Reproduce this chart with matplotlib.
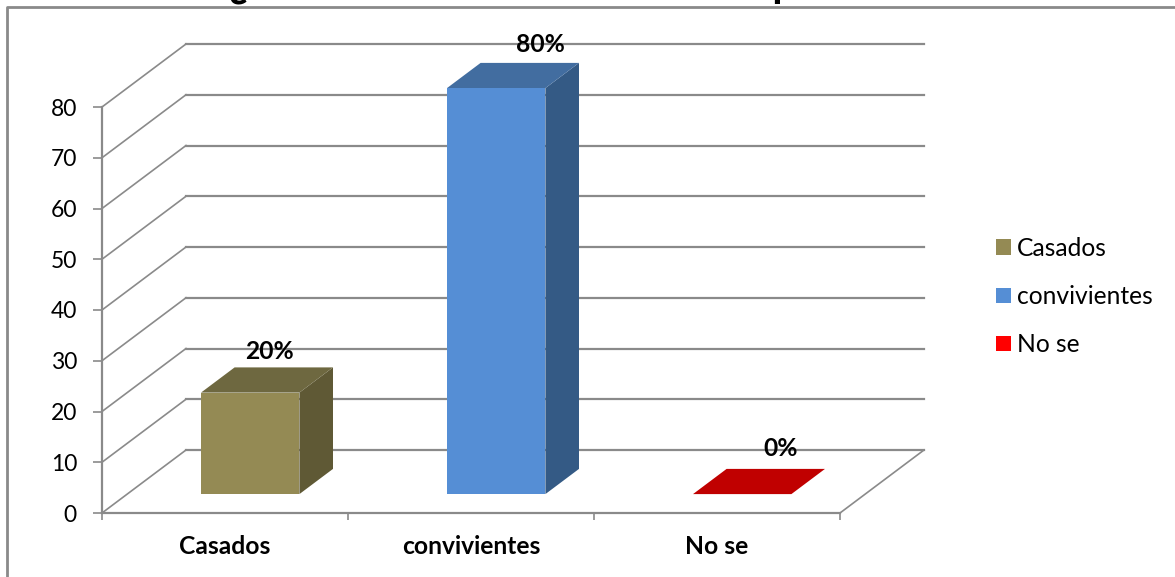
import matplotlib
matplotlib.use("Agg")
import matplotlib.pyplot as plt
from matplotlib.lines import Line2D
from matplotlib.patches import Patch, Polygon

W, H = 1175, 577
categories = ["Casados", "convivientes", "No se"]
values = [20, 80, 0]
value_labels = ["20%", "80%", "0%"]
y_ticks = [0, 10, 20, 30, 40, 50, 60, 70, 80]
front_colors = ["#948A54", "#558ED5", "#FF0000"]
side_colors = ["#5F5935", "#345A85", "#A00000"]
top_colors = ["#6E6840", "#426DA0", "#C00000"]
label_offsets = [(19, 41), (44, 44), (38, 46)]
GRID = "#8A8A8A"

plt.rcParams["font.family"] = ["Lato", "DejaVu Sans"]

fig = plt.figure(figsize=(W / 100, H / 100), dpi=100, facecolor="white")
ax = fig.add_axes([102 / W, (H - 513) / H, 738 / W, 406 / H])
ax.set_xlim(0, 3)
ax.set_ylim(0, 80)
ax.patch.set_visible(False)

# oblique projection: full depth of the chart, in data units
DX = 84 / 246
DY = 63 / (406 / 80)


def proj(x, y, d):
    return x + d * DX, y + d * DY


# walls
for v in y_ticks:
    x0, y0 = proj(0, v, 1)
    x1, y1 = proj(3, v, 1)
    ax.plot([x0, x1], [y0, y1], color=GRID, lw=1.6, clip_on=False, zorder=1)
    ax.plot([0, x0], [v, y0], color=GRID, lw=1.2, clip_on=False, zorder=1)
x1, y1 = proj(3, 0, 1)
ax.plot([3, x1], [0, y1], color=GRID, lw=1.2, clip_on=False, zorder=1)

# 3D bars
BAR_W = 0.4
BAR_D = 0.4
START = 0.30
for i, v in enumerate(values):
    cx, base = proj(i + 0.5, 0, START)
    xl, xr = cx - BAR_W / 2, cx + BAR_W / 2
    top = base + v
    dx, dy = BAR_D * DX, BAR_D * DY
    if v > 0:
        ax.bar(cx, v, BAR_W, bottom=base, color=front_colors[i], zorder=4, clip_on=False)
        ax.add_patch(Polygon([(xr, base), (xr + dx, base + dy), (xr + dx, top + dy), (xr, top)],
                             closed=True, fc=side_colors[i], ec="none", zorder=3, clip_on=False))
    ax.add_patch(Polygon([(xl, top), (xr, top), (xr + dx, top + dy), (xl + dx, top + dy)],
                         closed=True, fc=top_colors[i], ec="none", zorder=3, clip_on=False))
    ax.annotate(value_labels[i], (cx, top), xytext=label_offsets[i],
                textcoords="offset pixels", ha="center", va="center",
                fontsize=17.7, fontweight="bold", color="black", zorder=6, annotation_clip=False)

# axes
for s in ["top", "right"]:
    ax.spines[s].set_visible(False)
for s in ["left", "bottom"]:
    ax.spines[s].set_color(GRID)
    ax.spines[s].set_linewidth(1.6)
    ax.spines[s].set_zorder(2)
ax.set_yticks(y_ticks)
ax.set_yticklabels([str(v) for v in y_ticks])
ax.tick_params(axis="y", length=6.5, width=1.2, color=GRID, labelsize=16.5, pad=11.5)
ax.set_xticks([0, 1, 2, 3])
ax.set_xticklabels([])
ax.set_xticks([i + 0.5 for i in range(3)], minor=True)
ax.set_xticklabels(categories, minor=True, fontsize=17.7, fontweight="bold")
ax.tick_params(axis="x", which="major", length=5, width=1.2, color=GRID)
ax.tick_params(axis="x", which="minor", length=0, pad=16)

# legend
handles = [Patch(facecolor=c, edgecolor="none") for c in front_colors]
ax.legend(handles, categories, loc="upper left",
          bbox_to_anchor=(996 / W, (H - 237) / H), bbox_transform=fig.transFigure,
          frameon=False, fontsize=17.7, handlelength=0.61, handleheight=0.61,
          handletextpad=0.24, labelspacing=1.02, borderpad=0, borderaxespad=0)

# outer frame of the chart (cut by the image on the right and bottom)
fig.add_artist(Line2D([7 / W, 7 / W, 1], [0, (H - 7) / H, (H - 7) / H], color=GRID, lw=2, zorder=5))

# title, cut off by the top edge of the image
fig.text(562 / W, (H + 3) / H, "¿Cuál es el estado civil de tus padres", ha="center",
         va="baseline", fontsize=29.8, fontweight="bold", color="black", zorder=3)

fig.savefig("out.png", dpi=100)
